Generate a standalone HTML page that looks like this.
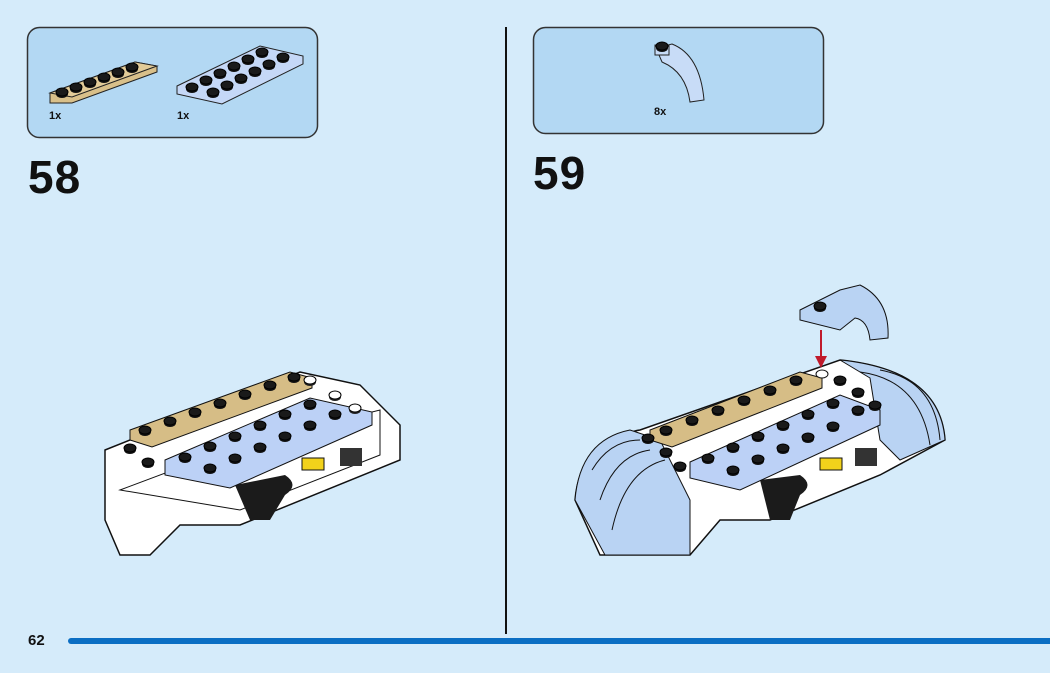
<!DOCTYPE html>
<html><head><meta charset="utf-8"><style>
html,body{margin:0;padding:0;background:#d5ebfa;}
body{width:1050px;height:673px;overflow:hidden;position:relative;font-family:"Liberation Sans",sans-serif;}
.t{position:absolute;font-weight:bold;color:#111;}
</style></head><body>
<svg width="1050" height="673" style="position:absolute;left:0;top:0">
<defs>
<g id="stud"><ellipse cx="0" cy="2" rx="6" ry="4" fill="#111"/><ellipse cx="0" cy="0" rx="6" ry="4" fill="#1a1a1a" stroke="#000"/></g>
<g id="wstud"><ellipse cx="0" cy="2" rx="6" ry="4" fill="#222"/><ellipse cx="0" cy="0" rx="6" ry="4" fill="#fff" stroke="#000"/></g>
</defs>
<!-- callouts -->
<rect x="27.5" y="27.5" width="290" height="110" rx="12" fill="#b3d8f3" stroke="#333" stroke-width="1.5"/>
<rect x="533.5" y="27.5" width="290" height="106" rx="12" fill="#b3d8f3" stroke="#333" stroke-width="1.5"/>
<line x1="506" y1="27" x2="506" y2="634" stroke="#111" stroke-width="2"/>
<rect x="68" y="638" width="990" height="6" rx="3" fill="#0b6ec3"/>
<!-- callout parts -->
<polygon points="50,93 135,62 157,66 157,72 72,103 50,103" fill="#d9c08a" stroke="#222"/>
<polygon points="50,93 135,62 157,66 72,97" fill="#e2cb98" stroke="#222"/>
<g transform="translate(0,0)">
<use href="#stud" x="62" y="92"/><use href="#stud" x="76" y="87"/><use href="#stud" x="90" y="82"/><use href="#stud" x="104" y="77"/><use href="#stud" x="118" y="72"/><use href="#stud" x="132" y="67"/>
</g>
<polygon points="177,86 260,46 303,56 303,64 222,104 177,94" fill="#c5d8f7" stroke="#222"/>
<use href="#stud" x="192" y="87"/><use href="#stud" x="206" y="80"/><use href="#stud" x="220" y="73"/><use href="#stud" x="234" y="66"/><use href="#stud" x="248" y="59"/><use href="#stud" x="262" y="52"/>
<use href="#stud" x="213" y="92"/><use href="#stud" x="227" y="85"/><use href="#stud" x="241" y="78"/><use href="#stud" x="255" y="71"/><use href="#stud" x="269" y="64"/><use href="#stud" x="283" y="57"/>
<path d="M656,48 L672,44 Q700,55 704,100 L690,102 Q686,72 662,62 Z" fill="#c8dcf7" stroke="#222"/>
<rect x="655" y="45" width="14" height="10" fill="#c8dcf7" stroke="#222"/>
<use href="#stud" x="662" y="46"/>
<!-- left model -->
<path d="M105,450 L300,372 L360,385 L400,425 L400,460 L240,525 L180,525 L150,555 L120,555 L105,520 Z" fill="#fff" stroke="#111" stroke-width="1.5"/>
<path d="M120,490 L240,445 L380,410 L380,455 L240,510 Z" fill="none" stroke="#111"/>
<path d="M235,485 L285,475 Q300,485 285,495 L270,520 L250,520 Z" fill="#1b1b1b"/>
<polygon points="130,430 290,372 312,378 312,388 152,447 130,440" fill="#d6bd86" stroke="#111"/>
<use href="#stud" x="145" y="430"/><use href="#stud" x="170" y="421"/><use href="#stud" x="195" y="412"/><use href="#stud" x="220" y="403"/><use href="#stud" x="245" y="394"/><use href="#stud" x="270" y="385"/><use href="#stud" x="294" y="377"/>
<polygon points="165,460 310,398 372,412 372,425 230,488 165,475" fill="#bcd1f6" stroke="#111"/>
<use href="#stud" x="185" y="457"/><use href="#stud" x="210" y="446"/><use href="#stud" x="235" y="436"/><use href="#stud" x="260" y="425"/><use href="#stud" x="285" y="414"/><use href="#stud" x="310" y="404"/>
<use href="#stud" x="210" y="468"/><use href="#stud" x="235" y="458"/><use href="#stud" x="260" y="447"/><use href="#stud" x="285" y="436"/><use href="#stud" x="310" y="425"/><use href="#stud" x="335" y="414"/>
<use href="#stud" x="130" y="448"/><use href="#stud" x="148" y="462"/><use href="#wstud" x="310" y="380"/><use href="#wstud" x="335" y="395"/><use href="#wstud" x="355" y="408"/>
<rect x="302" y="458" width="22" height="12" fill="#f2d21b" stroke="#111"/>
<rect x="340" y="448" width="22" height="18" fill="#333"/>
<!-- right model -->
<path d="M575,500 Q580,440 640,430 L840,360 Q940,370 945,440 L880,475 L770,520 L720,520 L690,555 L600,555 Z" fill="#fff" stroke="#111" stroke-width="1.5"/>
<path d="M575,500 Q580,440 630,430 L660,440 L690,500 L690,555 L605,555 Z" fill="#b9d3f3" stroke="#111"/>
<path d="M592,470 Q610,440 640,440 M600,500 Q615,455 650,450 M612,530 Q625,470 665,460" fill="none" stroke="#111"/>
<path d="M840,360 Q940,370 945,440 L900,460 L880,440 L870,378 Z" fill="#b9d3f3" stroke="#111"/>
<path d="M860,372 Q920,380 930,445 M880,370 Q935,380 940,440" fill="none" stroke="#111"/>
<path d="M760,480 L800,475 Q815,485 800,495 L790,520 L770,520 Z" fill="#1b1b1b"/>
<polygon points="650,430 800,372 822,378 822,388 672,447 650,440" fill="#d6bd86" stroke="#111"/>
<use href="#stud" x="666" y="430"/><use href="#stud" x="692" y="420"/><use href="#stud" x="718" y="410"/><use href="#stud" x="744" y="400"/><use href="#stud" x="770" y="390"/><use href="#stud" x="796" y="380"/>
<polygon points="690,462 840,395 880,410 880,425 740,490 690,478" fill="#bcd1f6" stroke="#111"/>
<use href="#stud" x="708" y="458"/><use href="#stud" x="733" y="447"/><use href="#stud" x="758" y="436"/><use href="#stud" x="783" y="425"/><use href="#stud" x="808" y="414"/><use href="#stud" x="833" y="403"/>
<use href="#stud" x="733" y="470"/><use href="#stud" x="758" y="459"/><use href="#stud" x="783" y="448"/><use href="#stud" x="808" y="437"/><use href="#stud" x="833" y="426"/><use href="#stud" x="858" y="410"/>
<use href="#stud" x="648" y="438"/><use href="#stud" x="666" y="452"/><use href="#stud" x="680" y="466"/><use href="#stud" x="840" y="380"/><use href="#stud" x="858" y="392"/><use href="#stud" x="875" y="405"/>
<ellipse cx="822" cy="374" rx="6" ry="4" fill="#fff" stroke="#111"/>
<rect x="820" y="458" width="22" height="12" fill="#f2d21b" stroke="#111"/>
<rect x="855" y="448" width="22" height="18" fill="#333"/>
<!-- new piece + arrow -->
<path d="M800,310 L840,290 L860,285 Q890,300 888,338 L870,340 Q868,320 855,318 L840,330 L800,320 Z" fill="#b9d3f3" stroke="#111"/>
<use href="#stud" x="820" y="306"/>
<line x1="821" y1="330" x2="821" y2="358" stroke="#c01a2b" stroke-width="2"/>
<polygon points="815,356 827,356 821,368" fill="#c01a2b"/>
</svg>
<div class="t" style="left:49px;top:110px;font-size:11px">1x</div>
<div class="t" style="left:177px;top:110px;font-size:11px">1x</div>
<div class="t" style="left:654px;top:106px;font-size:11px">8x</div>
<div class="t" style="left:28px;top:150px;font-size:46px;letter-spacing:1px">58</div>
<div class="t" style="left:533px;top:146px;font-size:46px;letter-spacing:1px">59</div>
<div class="t" style="left:28px;top:632px;font-size:15px">62</div>
</body></html>
